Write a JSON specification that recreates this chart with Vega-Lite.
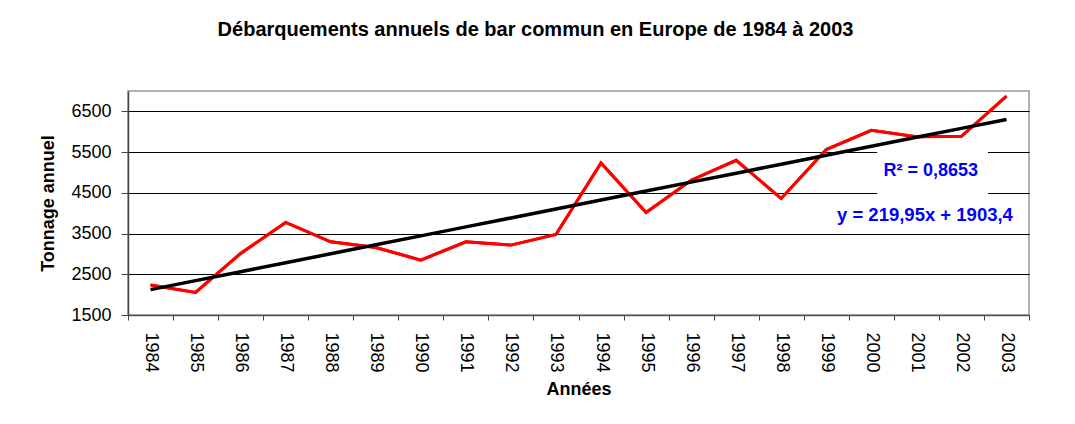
{
  "$schema": "https://vega.github.io/schema/vega-lite/v6.json",
  "autosize": {"type": "none"},
  "width": 901,
  "height": 224,
  "padding": {"left": 128, "top": 91, "right": 46, "bottom": 109},
  "background": "white",
  "config": {
    "font": "Liberation Sans",
    "view": {"stroke": "#999999", "strokeWidth": 1.5, "fill": "white"}
  },
  "title": {
    "text": "Débarquements annuels de bar commun en Europe de 1984 à 2003",
    "font": "Liberation Sans",
    "fontSize": 20,
    "fontWeight": "bold",
    "color": "black",
    "anchor": "middle",
    "dx": -43,
    "offset": 50
  },
  "datasets": {
    "main": [
      {"annee": "1984", "tonnage": 2235, "tendance": 2123.35},
      {"annee": "1985", "tonnage": 2056, "tendance": 2343.3},
      {"annee": "1986", "tonnage": 3012, "tendance": 2563.25},
      {"annee": "1987", "tonnage": 3772, "tendance": 2783.2},
      {"annee": "1988", "tonnage": 3297, "tendance": 3003.15},
      {"annee": "1989", "tonnage": 3159, "tendance": 3223.1},
      {"annee": "1990", "tonnage": 2848, "tendance": 3443.05},
      {"annee": "1991", "tonnage": 3297, "tendance": 3663.0},
      {"annee": "1992", "tonnage": 3216, "tendance": 3882.95},
      {"annee": "1993", "tonnage": 3477, "tendance": 4102.9},
      {"annee": "1994", "tonnage": 5233, "tendance": 4322.85},
      {"annee": "1995", "tonnage": 4017, "tendance": 4542.8},
      {"annee": "1996", "tonnage": 4809, "tendance": 4762.75},
      {"annee": "1997", "tonnage": 5299, "tendance": 4982.7},
      {"annee": "1998", "tonnage": 4360, "tendance": 5202.65},
      {"annee": "1999", "tonnage": 5561, "tendance": 5422.6},
      {"annee": "2000", "tonnage": 6034, "tendance": 5642.55},
      {"annee": "2001", "tonnage": 5875, "tendance": 5862.5},
      {"annee": "2002", "tonnage": 5887, "tendance": 6082.45},
      {"annee": "2003", "tonnage": 6876, "tendance": 6302.4}
    ],
    "box": [
      {"debut": "2000", "fin": "2003", "bas": 4350, "haut": 5580}
    ],
    "r2": [
      {"annee": "2001", "valeur": 5035, "label": "R² = 0,8653"}
    ],
    "eq": [
      {"annee": "2001", "valeur": 3955, "label": "y = 219,95x + 1903,4"}
    ]
  },
  "encoding": {
    "x": {
      "field": "annee",
      "type": "ordinal",
      "scale": {"type": "band", "paddingInner": 0, "paddingOuter": 0, "domain": ["1984","1985","1986","1987","1988","1989","1990","1991","1992","1993","1994","1995","1996","1997","1998","1999","2000","2001","2002","2003"]},
      "axis": {
        "title": "Années",
        "titleFont": "Liberation Sans",
        "titleFontSize": 18,
        "titleFontWeight": "bold",
        "titleColor": "black",
        "titlePadding": 8,
        "labelAngle": 90,
        "labelFont": "Liberation Sans",
        "labelFontSize": 18,
        "labelColor": "black",
        "labelPadding": 12,
        "tickBand": "extent",
        "tickSize": 5,
        "tickColor": "#444444",
        "domainColor": "#555555",
        "domainWidth": 1.5,
        "grid": false
      }
    }
  },
  "layer": [
    {
      "data": {"name": "main"},
      "mark": {"type": "line", "color": "#FF0000", "strokeWidth": 3},
      "encoding": {
        "y": {
          "field": "tonnage",
          "type": "quantitative",
          "scale": {"domain": [1500, 7000], "nice": false, "zero": false},
          "axis": {
            "title": "Tonnage annuel",
            "titleFont": "Liberation Sans",
            "titleFontSize": 18,
            "titleFontWeight": "bold",
            "titleColor": "black",
            "titlePadding": 13,
            "values": [1500, 2500, 3500, 4500, 5500, 6500],
            "format": "d",
            "labelFont": "Liberation Sans",
            "labelFontSize": 18,
            "labelColor": "black",
            "labelPadding": 10,
            "tickSize": 7,
            "tickColor": "#444444",
            "domainColor": "#444444",
            "domainWidth": 1.5,
            "grid": true,
            "gridColor": "black",
            "gridWidth": 1
          }
        }
      }
    },
    {
      "data": {"name": "box"},
      "mark": {"type": "rect", "color": "white", "opacity": 1},
      "encoding": {
        "x": {"field": "debut", "type": "ordinal", "bandPosition": 0.63},
        "x2": {"field": "fin", "bandPosition": 0.09},
        "y": {"field": "bas", "type": "quantitative"},
        "y2": {"field": "haut"}
      }
    },
    {
      "data": {"name": "main"},
      "mark": {"type": "line", "color": "#FF0000", "strokeWidth": 3},
      "encoding": {
        "y": {"field": "tonnage", "type": "quantitative"}
      }
    },
    {
      "data": {"name": "main"},
      "mark": {"type": "line", "color": "black", "strokeWidth": 3.5},
      "encoding": {
        "y": {"field": "tendance", "type": "quantitative"}
      }
    },
    {
      "data": {"name": "r2"},
      "mark": {"type": "text", "color": "#0000FF", "font": "Liberation Sans", "fontSize": 18, "fontWeight": "bold", "align": "center", "baseline": "middle"},
      "encoding": {
        "x": {"field": "annee", "type": "ordinal", "bandPosition": 0.82},
        "y": {"field": "valeur", "type": "quantitative"},
        "text": {"field": "label"}
      }
    },
    {
      "data": {"name": "eq"},
      "mark": {"type": "text", "color": "#0000FF", "font": "Liberation Sans", "fontSize": 18.5, "fontWeight": "bold", "align": "center", "baseline": "middle"},
      "encoding": {
        "x": {"field": "annee", "type": "ordinal", "bandPosition": 0.69},
        "y": {"field": "valeur", "type": "quantitative"},
        "text": {"field": "label"}
      }
    }
  ]
}
